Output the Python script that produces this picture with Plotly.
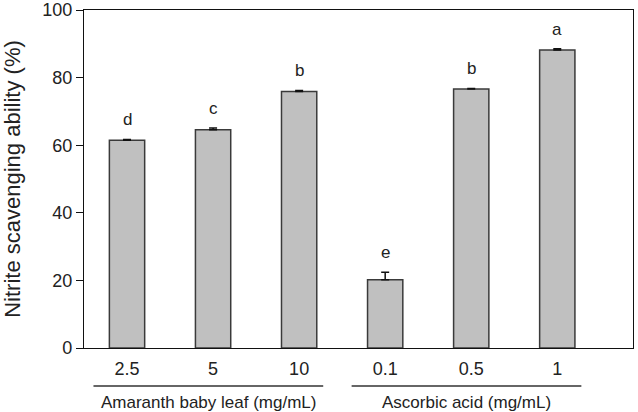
import plotly.graph_objects as go

concentrations = ["2.5", "5", "10", "0.1", "0.5", "1"]
scavenging = [61.5, 64.6, 75.9, 20.2, 76.6, 88.2]
errors = [0.2, 0.5, 0.3, 2.2, 0.2, 0.3]
letters = ["d", "c", "b", "e", "b", "a"]
groups = ["Amaranth baby leaf (mg/mL)", "Ascorbic acid (mg/mL)"]
group_members = [[0, 1, 2], [3, 4, 5]]
y_ticks = [0, 20, 40, 60, 80, 100]

FONT = "Liberation Sans, Arial, sans-serif"
xs = list(range(len(concentrations)))

fig = go.Figure()
fig.add_trace(go.Bar(
    x=xs, y=scavenging, width=0.41,
    marker=dict(color="#c0c0c0", line=dict(color="#3a3a3a", width=1.5)),
    error_y=dict(type="data", array=errors, arrayminus=[0] * len(errors),
                 symmetric=False, color="#111111", thickness=1.5, width=4),
    showlegend=False, hoverinfo="skip",
))

for x, v, e, t in zip(xs, scavenging, errors, letters):
    fig.add_annotation(x=x, y=v + e, text=t, showarrow=False,
                       yanchor="bottom", yshift=8,
                       font=dict(family=FONT, size=17, color="#222222"))

for name, members in zip(groups, group_members):
    x0 = members[0] - 0.39
    x1 = members[-1] + 0.28
    fig.add_shape(type="line", xref="x", yref="paper", x0=x0, x1=x1,
                  y0=-0.1125, y1=-0.1125, line=dict(color="#333333", width=1.5))
    fig.add_annotation(x=(x0 + x1) / 2, xref="x", yref="paper", y=-0.16,
                       text=name, showarrow=False, yanchor="middle",
                       font=dict(family=FONT, size=17, color="#222222"))

fig.update_layout(
    width=638, height=412,
    margin=dict(l=84, r=5, t=10, b=64, autoexpand=False),
    plot_bgcolor="white", paper_bgcolor="white",
    font=dict(family=FONT, size=18, color="#222222"),
    xaxis=dict(range=[-0.5, 5.88], tickmode="array", tickvals=xs,
               ticktext=concentrations, ticks="", showgrid=False,
               zeroline=False, showline=True, linecolor="#111111",
               linewidth=1.2, mirror=True, ticklabelstandoff=4,
               tickfont=dict(size=18), automargin=False),
    yaxis=dict(range=[0, 100], tickmode="array", tickvals=y_ticks,
               ticks="outside", ticklen=7, tickwidth=1.2, tickcolor="#111111",
               showgrid=False, zeroline=False, showline=True,
               linecolor="#111111", linewidth=1.2, mirror=True,
               tickfont=dict(size=18), ticklabeloverflow="allow",
               automargin=False,
               title=dict(text="Nitrite scavenging ability (%)",
                          font=dict(size=22), standoff=22)),
)

fig.write_html("out.html")
